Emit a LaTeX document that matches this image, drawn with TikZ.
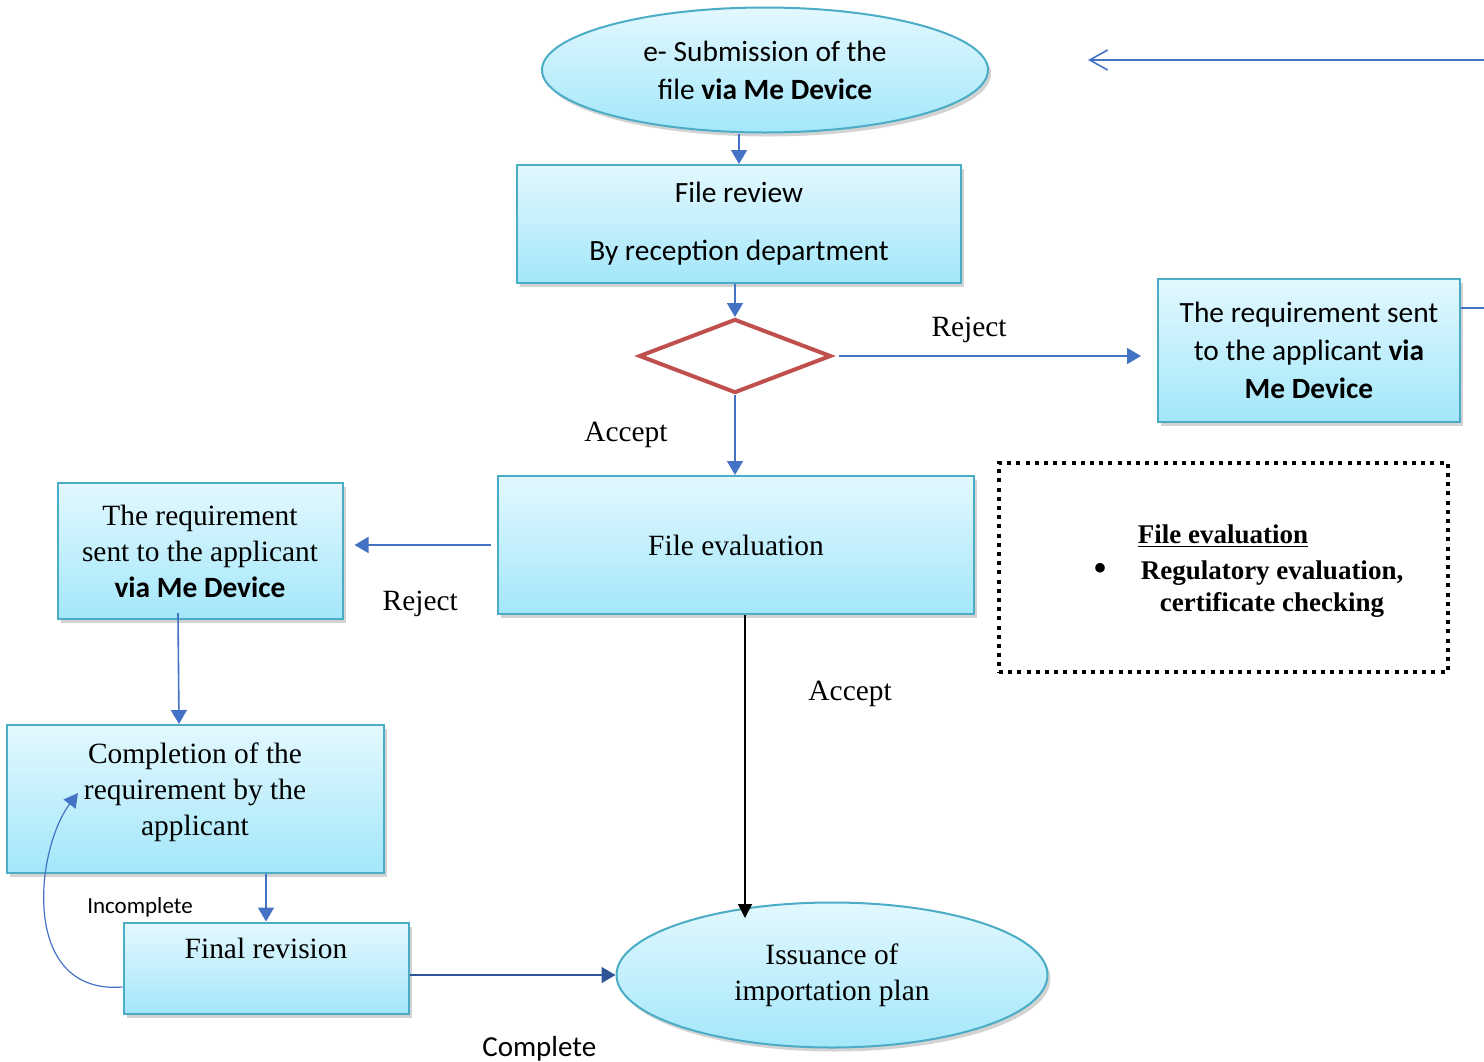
\documentclass[tikz,border=0pt]{standalone}
\usepackage{fontspec}
\setmainfont{Liberation Serif}
\newfontfamily\calibri{Carlito}
\usetikzlibrary{shapes.geometric,arrows.meta,shadows}

\definecolor{boxedge}{HTML}{4BACC6}
\definecolor{boxtop}{HTML}{E3F8FE}
\definecolor{boxbot}{HTML}{A3E7FA}
\definecolor{linkblue}{HTML}{4472C4}
\definecolor{linkdark}{HTML}{2F5597}
\definecolor{diared}{HTML}{C0504D}

\tikzset{
  box/.style={draw=boxedge, line width=1pt, top color=boxtop, bottom color=boxbot,
    align=center, inner sep=0pt,
    drop shadow={shadow xshift=1.5pt, shadow yshift=-2pt, opacity=0.35}},
  oval/.style={box, ellipse},
  decision/.style={diamond, draw=diared, line width=2pt, minimum width=96pt,
    minimum height=37pt, inner sep=0pt},
  calfont/.style={font=\calibri\fontsize{14.7}{19}\selectfont},
  serif/.style={font=\fontsize{14.7}{18}\selectfont},
  link/.style={draw=linkblue, line width=0.8pt, -{Triangle[length=7pt,width=8pt]}},
  linkdk/.style={link, draw=linkdark, -{Triangle[length=7pt,width=8pt]}},
  linkblack/.style={draw=black, line width=0.8pt, -{Triangle[length=7pt,width=7pt]}},
  backcurve/.style={draw=linkblue, line width=0.6pt, -{Triangle[length=7pt,width=7.5pt]}},
  backlink/.style={draw=linkblue, line width=0.8pt, -{Straight Barb[length=9pt,width=10pt]}},
  stub/.style={draw=linkblue, line width=0.8pt},
  notebox/.style={draw=black, line width=2pt, dash pattern=on 2pt off 2.6pt},
  notetext/.style={font=\bfseries\fontsize{13.5}{16}\selectfont, align=center, inner sep=0pt}
}

\begin{document}
\begin{tikzpicture}[x=0.5pt,y=-0.5pt]
\useasboundingbox (0,0) rectangle (1484,1061);

% 上半部分
\node[oval, calfont, minimum width=223pt, minimum height=62.5pt] (sub) at (765,70)
  {e- Submission of the\\file \textbf{via Me Device}};
\node[box, calfont, minimum width=222pt, minimum height=59pt] (review) at (739,224)
  {File review\\[10pt]By reception department};
\node[decision] (dec) at (735,356) {};
\node[box, calfont, minimum width=151pt, minimum height=71.5pt] (reqR) at (1309,350)
  {The requirement sent\\to the applicant \textbf{via}\\\textbf{Me Device}};

% 评估
\node[box, serif, minimum width=238pt, minimum height=69pt] (evalF) at (736,545) {File evaluation};
\node[box, serif, minimum width=142.5pt, minimum height=68pt] (reqL) at (200,551)
  {The requirement\\sent to the applicant\\{\calibri\bfseries\fontsize{14.7}{18}\selectfont via Me Device}};
\node[box, serif, minimum width=188.5pt, minimum height=74pt] (compl) at (195,799)
  {Completion of the\\requirement by the\\applicant\\[-8pt]\mbox{}};
\node[font=\calibri\fontsize{11.5}{13}\selectfont, fill=white, inner xsep=12pt, inner ysep=5pt] (lblIncomplete) at (140,907) {Incomplete};
\node[box, serif, minimum width=142.5pt, minimum height=45.5pt, text height=10pt, text depth=20pt] (final) at (266,968) {Final revision};
\node[oval, serif, minimum width=215.5pt, minimum height=72.5pt] (issue) at (832,975)
  {Issuance of\\importation plan};

% 说明框
\node[notebox, minimum width=224.5pt, minimum height=104.5pt] (note) at (1223.5,567.5) {};
\node[notetext] (noteHead) at (1223,536) {\underline{File evaluation}};
\node[notetext, font=\fontsize{20}{20}\selectfont] (noteDot) at (1100,572) {\textbullet};
\node[notetext] (noteBody) at (1272,589) {Regulatory evaluation,\\certificate checking};

% 连线
\coordinate (issueTop) at (745,918);
\coordinate (loopEnd) at (78,793);
\coordinate (edgeR1) at (1484,308);
\coordinate (edgeR2) at (1484,60);
\coordinate (backTip) at (1088,60);

\draw[link] (sub.south -| review.north) -- (review.north);
\draw[link] (review.south -| dec.north) -- (dec.north);
\draw[link, shorten <=3pt, shorten >=8pt] (dec.east) -- (dec.east -| reqR.west)
  node[pos=0.42, above=3pt, serif] (lblReject1) {Reject};
\draw[link] (dec.south) -- (dec.south |- evalF.north)
  node[midway, left=30pt, serif] (lblAccept1) {Accept};
\draw[link, shorten <=3pt, shorten >=5.5pt] (evalF.west) -- (evalF.west -| reqL.east)
  node[midway, below=19.5pt, serif] (lblReject2) {Reject};
\draw[link] ([xshift=-11pt,yshift=3.5pt]reqL.south) -- ([xshift=-8pt]compl.north);
\draw[link] (final.north |- compl.south) -- (final.north);
\draw[linkdk] (final.east |- issue.west) -- (issue.west)
  node[pos=0.63, below=27pt, font=\calibri\fontsize{14.5}{16}\selectfont] (lblComplete) {Complete};
\draw[linkblack] ([xshift=4.5pt]evalF.south) -- (issueTop)
  node[pos=0.26, right=28pt, serif] (lblAccept2) {Accept};
\draw[backcurve] ([yshift=-9.5pt]final.west) .. controls (20,995) and (35,850) .. (loopEnd);

% 右侧回路
\draw[stub] ([yshift=21pt]reqR.east) -- (edgeR1);
\draw[backlink] (edgeR2) -- (backTip);
\end{tikzpicture}
\end{document}
